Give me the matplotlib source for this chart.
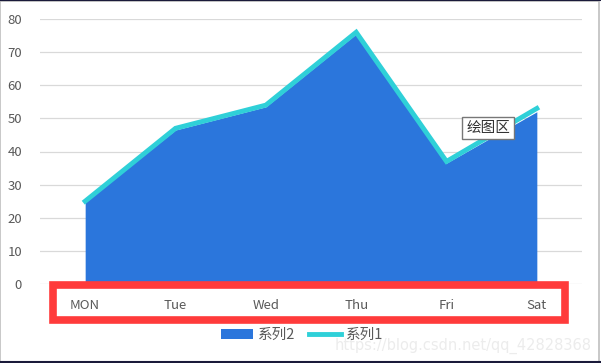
import matplotlib.pyplot as plt
from matplotlib.patches import Rectangle

plt.rcParams['font.family'] = ['Noto Sans CJK SC', 'DejaVu Sans']

days = ["MON", "Tue", "Wed", "Thu", "Fri", "Sat"]
series1 = [25, 47, 54, 76, 37, 53]
series2 = [25, 46.5, 53.5, 75.5, 36.5, 52]
yticks = [0, 10, 20, 30, 40, 50, 60, 70, 80]

fig = plt.figure(figsize=(6.01, 3.63), dpi=100)
ax = fig.add_axes([40 / 601, 1 - 284 / 363, 542 / 601, 265 / 363])

x = list(range(len(days)))
ax.fill_between(x, 0, series2, color="#2b76dc", label="系列2", zorder=2, linewidth=0)
ax.plot(x, series1, color="#2fd0d8", linewidth=3.5, label="系列1", zorder=3,
        solid_joinstyle="miter")

ax.set_xlim(-0.5, 5.5)
ax.set_ylim(0, 80)
ax.set_yticks(yticks)
ax.set_xticks(x)
ax.set_xticklabels(days)
ax.grid(axis="y", color="#d9d9d9", linewidth=0.9, zorder=0)
for s in ax.spines.values():
    s.set_visible(False)
ax.tick_params(axis="both", length=0, labelsize=9.5, colors="#595959")
ax.tick_params(axis="y", pad=13)
ax.tick_params(axis="x", pad=11)

# red highlight box around the category axis
fig.patches.append(Rectangle((53 / 601, 1 - 320 / 363), 512 / 601, 35 / 363,
                             transform=fig.transFigure, fill=False,
                             edgecolor="#ff3b3b", linewidth=5.5))

# "plot area" tooltip
fig.text(488 / 601, 1 - 128 / 363, "绘图区", ha="center", va="center", fontsize=10.5,
         color="#333333",
         bbox=dict(boxstyle="square,pad=0.3", fc="white", ec="#777777", lw=1))

leg = fig.legend(loc="center", bbox_to_anchor=(302 / 601, 1 - 335 / 363), ncol=2,
                 frameon=False, fontsize=10.5, handlelength=2.2, handletextpad=0.35,
                 columnspacing=0.9)
for t in leg.get_texts():
    t.set_color("#595959")

fig.text(592 / 601, 1 - 346 / 363, "https://blog.csdn.net/qq_42828368", ha="right",
         va="center", fontsize=10.5, color="#ececec", family="DejaVu Sans", zorder=0)

# outer frame of the screenshot
fig.patches.append(Rectangle((0.0008, 0.002), 0.996, 0.996, transform=fig.transFigure,
                             fill=False, edgecolor="#bfbfbf", linewidth=1.2))
fig.add_artist(plt.Line2D([0, 1], [0.999, 0.999], transform=fig.transFigure,
                          color="#1a1a3a", linewidth=1.5))
fig.add_artist(plt.Line2D([0, 1], [0.002, 0.002], transform=fig.transFigure,
                          color="#1a1a3a", linewidth=1.5))

fig.savefig("out.png", dpi=100)
